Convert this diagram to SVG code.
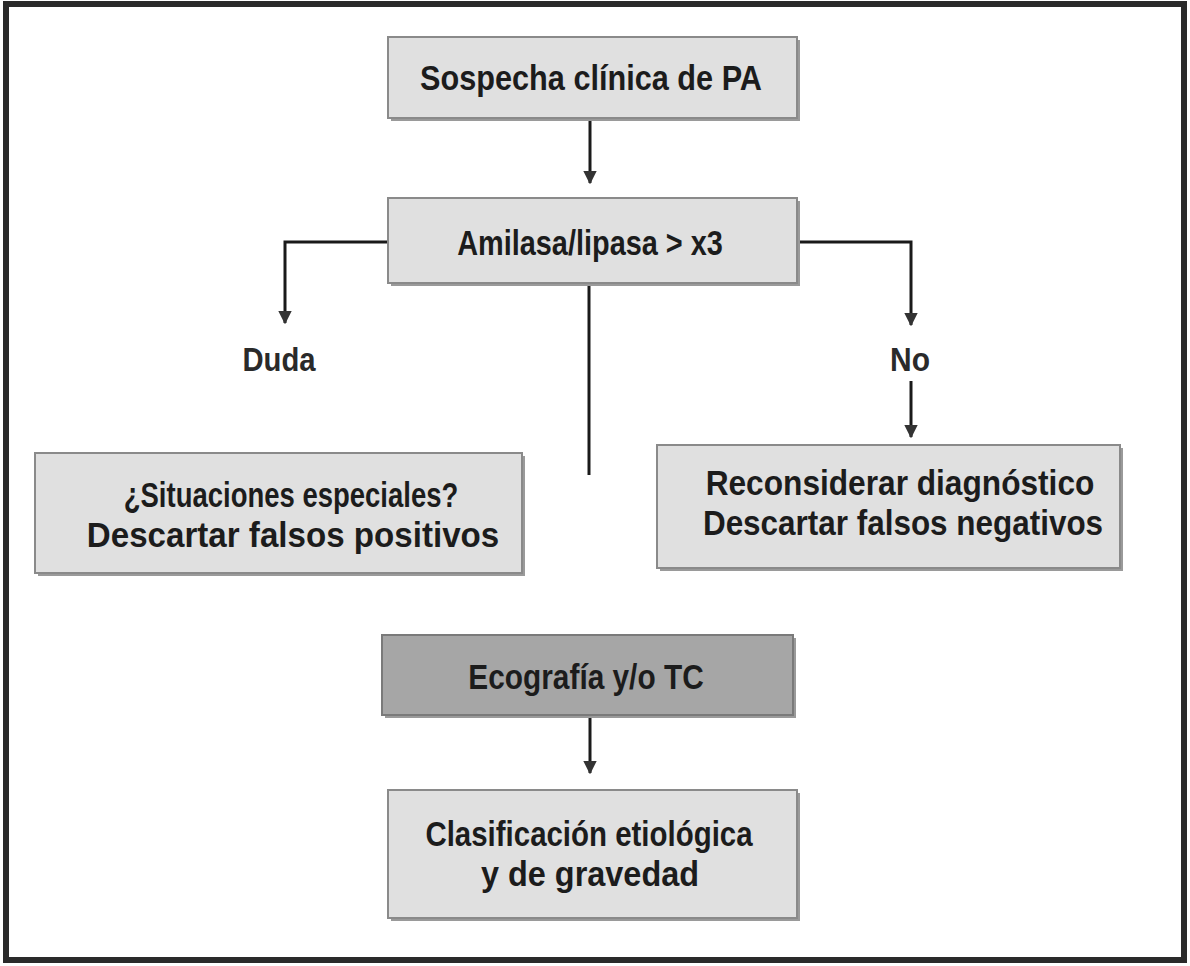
<svg xmlns="http://www.w3.org/2000/svg" width="1190" height="966" viewBox="0 0 1190 966">
  <defs>
    <marker id="arrow" viewBox="0 0 10 10" refX="9" refY="5" markerWidth="4.5" markerHeight="4.5" orient="auto" markerUnits="strokeWidth">
      <path d="M0,0 L10,5 L0,10 Z" fill="#333"/>
    </marker>
  </defs>
  <style>
    .frame { fill: #ffffff; stroke: #2a2a2a; stroke-width: 6; }
    .shadow { fill: #9a9a9a; }
    .box { fill: #e0e0e0; stroke: #8a8a8a; stroke-width: 2; }
    .box-dark { fill: #a6a6a6; stroke: #7a7a7a; stroke-width: 2; }
    .label { font-family: "Liberation Sans", Arial, sans-serif; font-weight: bold; font-size: 35.5px; fill: #1c1c1c; text-anchor: middle; }
    .plain { font-family: "Liberation Sans", Arial, sans-serif; font-weight: bold; font-size: 34px; fill: #2a2a2a; text-anchor: middle; }
    .conn { fill: none; stroke: #1a1a1a; stroke-width: 3; }
  </style>

  <rect class="frame" x="6" y="4" width="1178" height="956"/>

  <g id="connectors">
    <path class="conn" d="M590,118 V183" marker-end="url(#arrow)"/>
    <path class="conn" d="M388,242 H285 V323" marker-end="url(#arrow)"/>
    <path class="conn" d="M589,283 V475"/>
    <path class="conn" d="M797,242 H911 V325" marker-end="url(#arrow)"/>
    <path class="conn" d="M911,381 V437" marker-end="url(#arrow)"/>
    <path class="conn" d="M910,555 V568"/>
    <path class="conn" d="M590,715 V773" marker-end="url(#arrow)"/>
  </g>

  <!-- condensed labels: horizontal scale on each text line -->
  <g id="sospecha">
    <rect class="shadow" x="391" y="40" width="409" height="81"/>
    <rect class="box" x="388" y="37" width="409" height="81"/>
    <text class="label" transform="translate(591,90) scale(0.82,1)" textLength="417" lengthAdjust="spacingAndGlyphs">Sospecha clínica de PA</text>
  </g>

  <g id="amilasa">
    <rect class="shadow" x="391" y="201" width="409" height="85"/>
    <rect class="box" x="388" y="198" width="409" height="85"/>
    <text class="label" transform="translate(590,255) scale(0.82,1)" textLength="324" lengthAdjust="spacingAndGlyphs">Amilasa/lipasa &gt; x3</text>
  </g>

  <g id="duda">
    <text class="plain" transform="translate(279,371) scale(0.85,1)" textLength="86" lengthAdjust="spacingAndGlyphs">Duda</text>
  </g>

  <g id="no">
    <text class="plain" transform="translate(910,371) scale(0.85,1)" textLength="47" lengthAdjust="spacingAndGlyphs">No</text>
  </g>

  <g id="especiales">
    <rect class="shadow" x="38" y="456" width="487" height="120"/>
    <rect class="box" x="35" y="453" width="487" height="120"/>
    <text class="label" transform="translate(291,507) scale(0.82,1)" textLength="408" lengthAdjust="spacingAndGlyphs">¿Situaciones especiales?</text>
    <text class="label" transform="translate(293,547) scale(0.82,1)" textLength="503" lengthAdjust="spacingAndGlyphs">Descartar falsos positivos</text>
  </g>

  <g id="reconsiderar">
    <rect class="shadow" x="660" y="448" width="463" height="123"/>
    <rect class="box" x="657" y="445" width="463" height="123"/>
    <text class="label" transform="translate(900,495) scale(0.82,1)" textLength="474" lengthAdjust="spacingAndGlyphs">Reconsiderar diagnóstico</text>
    <text class="label" transform="translate(903,535) scale(0.82,1)" textLength="488" lengthAdjust="spacingAndGlyphs">Descartar falsos negativos</text>
  </g>

  <g id="ecografia">
    <rect class="shadow" x="385" y="638" width="411" height="80"/>
    <rect class="box-dark" x="382" y="635" width="411" height="80"/>
    <text class="label" transform="translate(586,689) scale(0.82,1)" textLength="287" lengthAdjust="spacingAndGlyphs">Ecografía y/o TC</text>
  </g>

  <g id="clasificacion">
    <rect class="shadow" x="391" y="793" width="409" height="128"/>
    <rect class="box" x="388" y="790" width="409" height="128"/>
    <text class="label" transform="translate(589,846) scale(0.82,1)" textLength="399" lengthAdjust="spacingAndGlyphs">Clasificación etiológica</text>
    <text class="label" transform="translate(590,886) scale(0.82,1)" textLength="266" lengthAdjust="spacingAndGlyphs">y de gravedad</text>
  </g>
</svg>
